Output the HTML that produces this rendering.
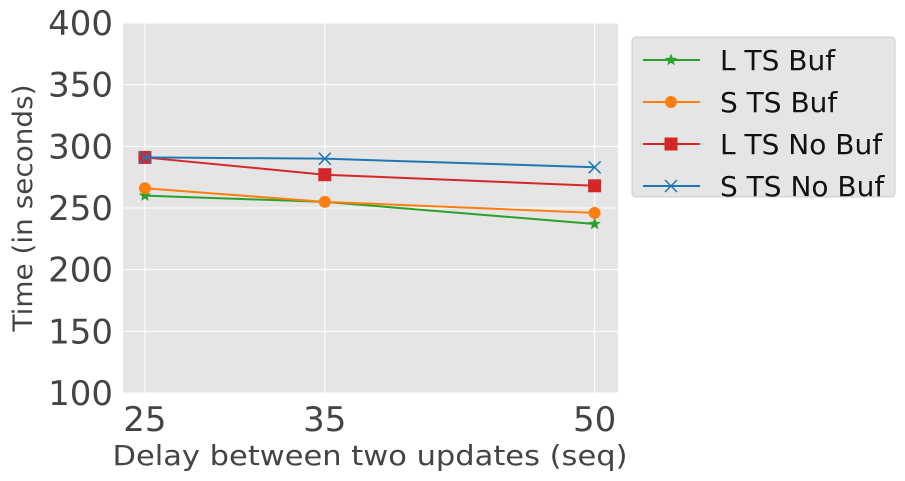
<!DOCTYPE html>
<html><head><meta charset="utf-8"><style>
body{margin:0;background:#fff;}
svg{display:block;font-family:"DejaVu Sans","Liberation Sans",sans-serif;}
</style></head><body>
<svg id="chart" width="905" height="481"></svg>
<script>
const categories=[25,35,50];
const seriesNames=["L TS Buf","S TS Buf","L TS No Buf","S TS No Buf"];
const lTsBuf=[260,255,237];
const sTsBuf=[266,255,246];
const lTsNoBuf=[291,277,268];
const sTsNoBuf=[291,290,283];
const yTicks=[100,150,200,250,300,350,400];
const xTicks=[25,35,50];
const colors=["#2ca02c","#ff7f0e","#d62728","#1f77b4"];
const markers=["star","circle","square","x"];
const seriesData=[lTsBuf,sTsBuf,lTsNoBuf,sTsNoBuf];

const NS="http://www.w3.org/2000/svg";
const svg=document.getElementById('chart');
const L=123,R=618,T=23,B=393;
const xMin=23.78,xMax=51.3,yMin=100,yMax=400;
const xs=v=>L+(v-xMin)/(xMax-xMin)*(R-L);
const ys=v=>B-(v-yMin)/(yMax-yMin)*(B-T);
function mk(tag,attrs,parent){const e=document.createElementNS(NS,tag);for(const k in attrs)e.setAttribute(k,attrs[k]);(parent||svg).appendChild(e);return e;}

const bg=mk('rect',{x:L,y:T,width:R-L,height:B-T,fill:'#e5e5e5'});



yTicks.forEach(t=>{
  const g=mk('line',{x1:L,x2:R,y1:ys(t),y2:ys(t),stroke:'#fff','stroke-width':1});
  
  
  const tx=mk('text',{x:L-10,y:ys(t)+12,'text-anchor':'end','font-size':34,fill:'#444'});
  tx.textContent=t;
  
  
});
xTicks.forEach(t=>{
  const g=mk('line',{x1:xs(t),x2:xs(t),y1:T,y2:B,stroke:'#fff','stroke-width':1});
  
  
  const tx=mk('text',{x:xs(t),y:B+38,'text-anchor':'middle','font-size':34,fill:'#444'});
  tx.textContent=t;
  
  
});

function marker(type,x,y,c,parent){
  let e;
  if(type==='circle')e=mk('circle',{cx:x,cy:y,r:6,fill:c},parent);
  else if(type==='square')e=mk('rect',{x:x-6.5,y:y-6.5,width:13,height:13,fill:c},parent);
  else if(type==='x')e=mk('path',{d:`M${x-6},${y-6}L${x+6},${y+6}M${x-6},${y+6}L${x+6},${y-6}`,stroke:c,'stroke-width':1.5,fill:'none'},parent);
  else{
    let p='';for(let i=0;i<10;i++){const r=i%2?2.8:6.5;const a=-Math.PI/2+i*Math.PI/5;p+=(i?'L':'M')+(x+r*Math.cos(a)).toFixed(2)+','+(y+r*Math.sin(a)).toFixed(2);}
    e=mk('path',{d:p+'Z',fill:c},parent);
  }
  return e;
}

seriesData.forEach((d,si)=>{
  const g=mk('g',{});
  
  
  const pts=d.map((v,i)=>xs(categories[i])+','+ys(v)).join(' ');
  mk('polyline',{points:pts,fill:'none',stroke:colors[si],'stroke-width':2},g);
  d.forEach((v,i)=>{
    const m=marker(markers[si],xs(categories[i]),ys(v),colors[si],g);
    
    
  });
});

const yl=mk('text',{x:0,y:0,transform:'translate(32,208) rotate(-90)','text-anchor':'middle','font-size':27,fill:'#444',textLength:247,lengthAdjust:'spacingAndGlyphs'});
yl.textContent='Time (in seconds)';


const xl=mk('text',{x:370,y:465,'text-anchor':'middle','font-size':28,fill:'#444',textLength:515,lengthAdjust:'spacingAndGlyphs'});
xl.textContent='Delay between two updates (seq)';



const lg=mk('g',{});


mk('rect',{x:632,y:37,width:263,height:160,rx:4,fill:'#e5e5e5',stroke:'#ccc'},lg);
seriesNames.forEach((n,i)=>{
  const y=60+i*42;
  const e=mk('g',{},lg);
  
  
  mk('line',{x1:643,x2:700,y1:y,y2:y,stroke:colors[i],'stroke-width':2},e);
  marker(markers[i],671,y,colors[i],e);
  const t=mk('text',{x:720,y:y+10,'font-size':28,fill:'#111'},e);
  t.textContent=n;
});
</script>
</body></html>
